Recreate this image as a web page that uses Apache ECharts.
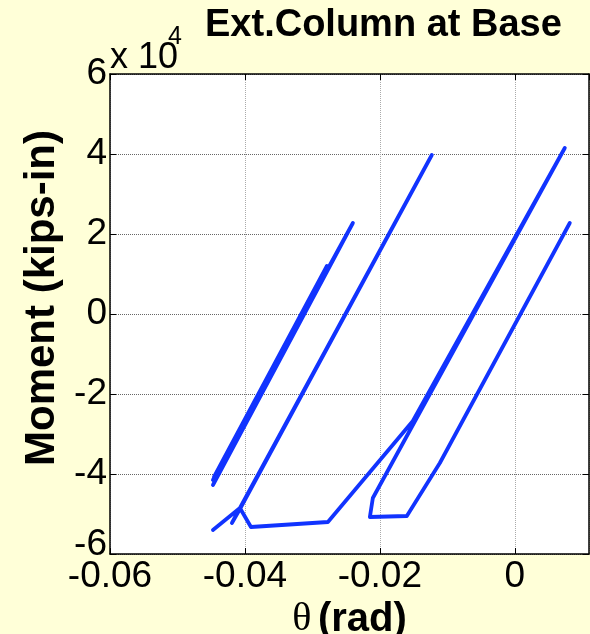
<!DOCTYPE html>
<html>
<head>
<meta charset="utf-8">
<script src="https://cdn.jsdelivr.net/npm/echarts@6/dist/echarts.min.js"></script>
<style>
  html, body { margin: 0; padding: 0; background: #ffffd8; }
  #chart { width: 590px; height: 634px; }
</style>
</head>
<body>
<div id="chart"></div>
<script>
// rotation (rad) and base moment (kips-in); null breaks the trace
const rotation = [
  -0.04474, -0.04074, -0.04193, -0.04074, -0.01230, -0.04074, -0.03911, -0.02770,
  -0.01511, 0.00741, -0.02104, -0.02148, -0.01600, -0.01111, 0.00815,
  null,
  -0.04474, -0.02400, -0.04459, -0.02785, -0.04474,
];
const moment = [
  -54000, -48500, -52250, -48750, 39750, -48500, -53250, -52000,
  -26750, 41500, -46000, -50750, -50500, -37250, 22750,
  null,
  -42750, 22750, -40750, 12000, -41500,
];

const xTicks = { min: -0.06, max: 0.011, step: 0.02 };
const yTicks = { min: -60000, max: 60000, step: 20000 };

const FONT = "'Liberation Sans', Arial, Helvetica, sans-serif";

const points = rotation.map((r, i) => (r === null ? ["-", "-"] : [r, moment[i]]));

const chart = echarts.init(document.getElementById("chart"), null, { renderer: "canvas" });

const tickLabel = {
  color: "#000",
  fontFamily: FONT,
  fontSize: 37,
};
const frameLine = { show: true, onZero: false, lineStyle: { color: "#000", width: 1.5 } };
const innerTick = { show: true, inside: true, length: 6, lineStyle: { color: "#000" } };

chart.setOption({
  animation: false,
  backgroundColor: "#ffffd8",
  title: {
    text: "Ext.Column at Base",
    left: 205,
    top: 7,
    padding: 0,
    textStyle: { fontFamily: FONT, fontSize: 38, fontWeight: "bold", color: "#000" },
  },
  grid: {
    left: 110,
    right: 1,
    top: 74,
    bottom: 80,
    containLabel: false,
    outerBoundsMode: "none",
    show: true,
    backgroundColor: "#fff",
    borderWidth: 0,
  },
  xAxis: [
    {
      type: "value",
      position: "bottom",
      min: xTicks.min,
      max: xTicks.max,
      interval: xTicks.step,
      name: "{t|θ}  {b|(rad)}",
      nameLocation: "middle",
      nameGap: 26,
      nameTextStyle: {
        rich: {
          t: { fontFamily: "'Liberation Serif', 'DejaVu Serif', serif", fontSize: 40, color: "#000" },
          b: { fontFamily: FONT, fontSize: 40, fontWeight: "bold", color: "#000" },
        },
      },
      axisLine: frameLine,
      axisTick: innerTick,
      axisLabel: {
        ...tickLabel,
        margin: 4,
        showMaxLabel: false,
        formatter: (v) => String(Number(v.toFixed(4))),
      },
      splitLine: { show: true, lineStyle: { type: "dotted", color: "#aaa", width: 1 } },
    },
    {
      type: "value",
      position: "top",
      min: xTicks.min,
      max: xTicks.max,
      interval: xTicks.step,
      axisLine: frameLine,
      axisTick: innerTick,
      axisLabel: { show: false },
      splitLine: { show: false },
    },
  ],
  yAxis: [
    {
      type: "value",
      position: "left",
      min: yTicks.min,
      max: yTicks.max,
      interval: yTicks.step,
      name: "Moment (kips-in)",
      nameLocation: "middle",
      nameRotate: 90,
      nameGap: 44,
      nameTextStyle: {
        fontFamily: FONT,
        fontSize: 42,
        fontWeight: "bold",
        color: "#000",
        padding: [0, 0, 0, 32],
      },
      axisLine: frameLine,
      axisTick: innerTick,
      axisLabel: {
        ...tickLabel,
        margin: 3,
        formatter: (v) => {
          const s = String(Math.round(v / 1e4));
          return v === yTicks.min ? "{lo|" + s + "}" : s;
        },
        rich: {
          lo: { fontFamily: FONT, fontSize: 37, color: "#000", padding: [0, 0, 18, 0] },
        },
      },
      splitLine: { show: true, lineStyle: { type: "dotted", color: "#666", width: 1 } },
    },
    {
      type: "value",
      position: "right",
      min: yTicks.min,
      max: yTicks.max,
      interval: yTicks.step,
      axisLine: frameLine,
      axisTick: innerTick,
      axisLabel: { show: false },
      splitLine: { show: false },
    },
  ],
  graphic: [
    {
      type: "text",
      x: 110,
      y: 40,
      style: {
        text: "x 10",
        font: "36px " + FONT,
        fill: "#000",
        align: "left",
        verticalAlign: "top",
      },
    },
    {
      type: "text",
      x: 168,
      y: 25,
      style: {
        text: "4",
        font: "25px " + FONT,
        fill: "#000",
        align: "left",
        verticalAlign: "top",
      },
    },
  ],
  series: [
    {
      type: "line",
      xAxisIndex: 0,
      yAxisIndex: 0,
      data: points,
      showSymbol: false,
      connectNulls: false,
      lineStyle: { color: "#1133ff", width: 3.8, cap: "round", join: "round" },
    },
  ],
});
</script>
</body>
</html>
